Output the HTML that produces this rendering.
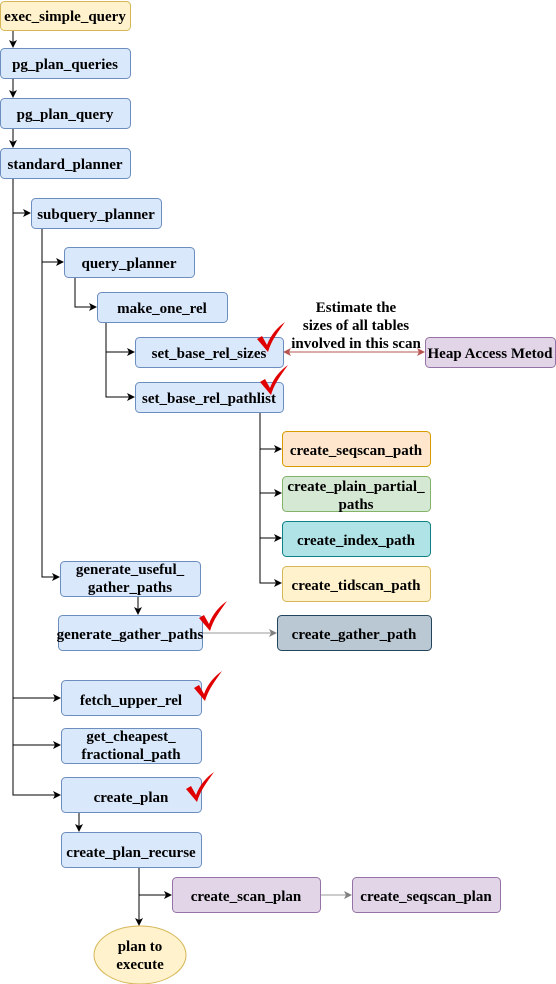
<!DOCTYPE html>
<html><head><meta charset="utf-8"><style>
html,body{margin:0;padding:0;background:#fff;}
svg{display:block;}
text{font-family:"Liberation Serif",serif;font-weight:bold;font-size:15px;fill:#000;}
</style></head><body>
<svg width="556" height="984" viewBox="0 0 556 984" xmlns="http://www.w3.org/2000/svg">
<defs>
<marker id="a" markerWidth="8" markerHeight="8" refX="7" refY="4" orient="auto" markerUnits="userSpaceOnUse"><path d="M0,0 L8,4 L0,8 L2,4 Z" fill="#000"/></marker>
<marker id="g" markerWidth="8" markerHeight="8" refX="7" refY="4" orient="auto" markerUnits="userSpaceOnUse"><path d="M0,0 L8,4 L0,8 L2,4 Z" fill="#808080"/></marker>
<marker id="r" markerWidth="8" markerHeight="8" refX="7" refY="4" orient="auto-start-reverse" markerUnits="userSpaceOnUse"><path d="M0,0 L8,4 L0,8 L2,4 Z" fill="#b85450"/></marker>
<path id="ck" d="M0,12 L5,9 L10,18 C14,7 21,0 28,-5 C21,5 14,14 11,25 Z" fill="#e00000"/>
</defs>
<g fill="none" stroke="#000" stroke-width="1">
<path d="M13,30 V47" marker-end="url(#a)"/>
<path d="M13,78 V97" marker-end="url(#a)"/>
<path d="M13,128 V147" marker-end="url(#a)"/>
<path d="M13,178 V795 H60" marker-end="url(#a)"/>
<path d="M13,213 H30" marker-end="url(#a)"/>
<path d="M13,698 H60" marker-end="url(#a)"/>
<path d="M13,745 H60" marker-end="url(#a)"/>
<path d="M42,228 V577 H59" marker-end="url(#a)"/>
<path d="M42,262 H63" marker-end="url(#a)"/>
<path d="M75,277 V307 H96" marker-end="url(#a)"/>
<path d="M106,322 V397 H134" marker-end="url(#a)"/>
<path d="M106,352 H134" marker-end="url(#a)"/>
<path d="M260,412 V583 H281" marker-end="url(#a)"/>
<path d="M260,449 H281" marker-end="url(#a)"/>
<path d="M260,493 H281" marker-end="url(#a)"/>
<path d="M260,538 H281" marker-end="url(#a)"/>
<path d="M138,596 V614" marker-end="url(#a)"/>
<path d="M79,812 V831" marker-end="url(#a)"/>
<path d="M139,867 V925" marker-end="url(#a)"/>
<path d="M139,895 H171" marker-end="url(#a)"/>
<path d="M202,633 H276" stroke="#999" marker-end="url(#g)"/>
<path d="M320,895 H351" stroke="#999" marker-end="url(#g)"/>
<path d="M284,352 H424" stroke="#b85450" marker-start="url(#r)" marker-end="url(#r)"/>
</g>
<g stroke-width="1">
<rect x="0.5" y="1.5" width="130" height="29" rx="4" fill="#fff2cc" stroke="#d6b656"/>
<rect x="0.5" y="48.5" width="130" height="30" rx="4" fill="#dae8fc" stroke="#6c8ebf"/>
<rect x="0.5" y="98.5" width="130" height="30" rx="4" fill="#dae8fc" stroke="#6c8ebf"/>
<rect x="0.5" y="148.5" width="130" height="30" rx="4" fill="#dae8fc" stroke="#6c8ebf"/>
<rect x="31.5" y="198.5" width="130" height="30" rx="4" fill="#dae8fc" stroke="#6c8ebf"/>
<rect x="64.5" y="247.5" width="130" height="30" rx="4" fill="#dae8fc" stroke="#6c8ebf"/>
<rect x="97.5" y="292.5" width="130" height="30" rx="4" fill="#dae8fc" stroke="#6c8ebf"/>
<rect x="135.5" y="337.5" width="148" height="30" rx="4" fill="#dae8fc" stroke="#6c8ebf"/>
<rect x="135.5" y="382.5" width="148" height="30" rx="4" fill="#dae8fc" stroke="#6c8ebf"/>
<rect x="425.5" y="337.5" width="130" height="30" rx="4" fill="#e1d5e7" stroke="#9673a6"/>
<rect x="282.5" y="431.5" width="148" height="35" rx="4" fill="#ffe6cc" stroke="#d79b00"/>
<rect x="282.5" y="476.5" width="148" height="35" rx="4" fill="#d5e8d4" stroke="#82b366"/>
<rect x="282.5" y="521.5" width="148" height="35" rx="4" fill="#b0e3e6" stroke="#0e8088"/>
<rect x="282.5" y="566.5" width="148" height="35" rx="4" fill="#fff2cc" stroke="#d6b656"/>
<rect x="60.5" y="561.5" width="140" height="35" rx="4" fill="#dae8fc" stroke="#6c8ebf"/>
<rect x="58.5" y="615.5" width="144" height="35" rx="4" fill="#dae8fc" stroke="#6c8ebf"/>
<rect x="277.5" y="615.5" width="154" height="35" rx="4" fill="#bac8d3" stroke="#23445d"/>
<rect x="61.5" y="680.5" width="140" height="35" rx="4" fill="#dae8fc" stroke="#6c8ebf"/>
<rect x="61.5" y="728.5" width="140" height="35" rx="4" fill="#dae8fc" stroke="#6c8ebf"/>
<rect x="61.5" y="777.5" width="140" height="35" rx="4" fill="#dae8fc" stroke="#6c8ebf"/>
<rect x="61.5" y="832.5" width="140" height="35" rx="4" fill="#dae8fc" stroke="#6c8ebf"/>
<rect x="172.5" y="877.5" width="148" height="35" rx="4" fill="#e1d5e7" stroke="#9673a6"/>
<rect x="352.5" y="877.5" width="148" height="35" rx="4" fill="#e1d5e7" stroke="#9673a6"/>
<ellipse cx="140" cy="955" rx="46" ry="29" fill="#fff2cc" stroke="#d6b656"/>
</g>
<g text-anchor="middle">
<text x="65" y="21">exec_simple_query</text>
<text x="65" y="69">pg_plan_queries</text>
<text x="65" y="119">pg_plan_query</text>
<text x="65" y="169">standard_planner</text>
<text x="96" y="219">subquery_planner</text>
<text x="129" y="268">query_planner</text>
<text x="162" y="313">make_one_rel</text>
<text x="209" y="358">set_base_rel_sizes</text>
<text x="209" y="403">set_base_rel_pathlist</text>
<text x="490" y="358">Heap Access Metod</text>
<text x="356" y="312">Estimate the</text>
<text x="356" y="330">sizes of all tables</text>
<text x="356" y="348">involved in this scan</text>
<text x="356" y="455">create_seqscan_path</text>
<text x="356" y="491">create_plain_partial_</text>
<text x="356" y="509">paths</text>
<text x="356" y="545">create_index_path</text>
<text x="356" y="590">create_tidscan_path</text>
<text x="130" y="574">generate_useful_</text>
<text x="130" y="592">gather_paths</text>
<text x="130" y="639">generate_gather_paths</text>
<text x="354" y="639">create_gather_path</text>
<text x="131" y="705">fetch_upper_rel</text>
<text x="131" y="741">get_cheapest_</text>
<text x="131" y="759">fractional_path</text>
<text x="131" y="802">create_plan</text>
<text x="131" y="857">create_plan_recurse</text>
<text x="246" y="901">create_scan_plan</text>
<text x="426" y="901">create_seqscan_plan</text>
<text x="140" y="951">plan to</text>
<text x="140" y="969">execute</text>
</g>
<use href="#ck" x="257" y="327"/>
<use href="#ck" x="260" y="370"/>
<use href="#ck" x="199" y="606"/>
<use href="#ck" x="194" y="676"/>
<use href="#ck" x="186" y="777"/>
</svg>
</body></html>
